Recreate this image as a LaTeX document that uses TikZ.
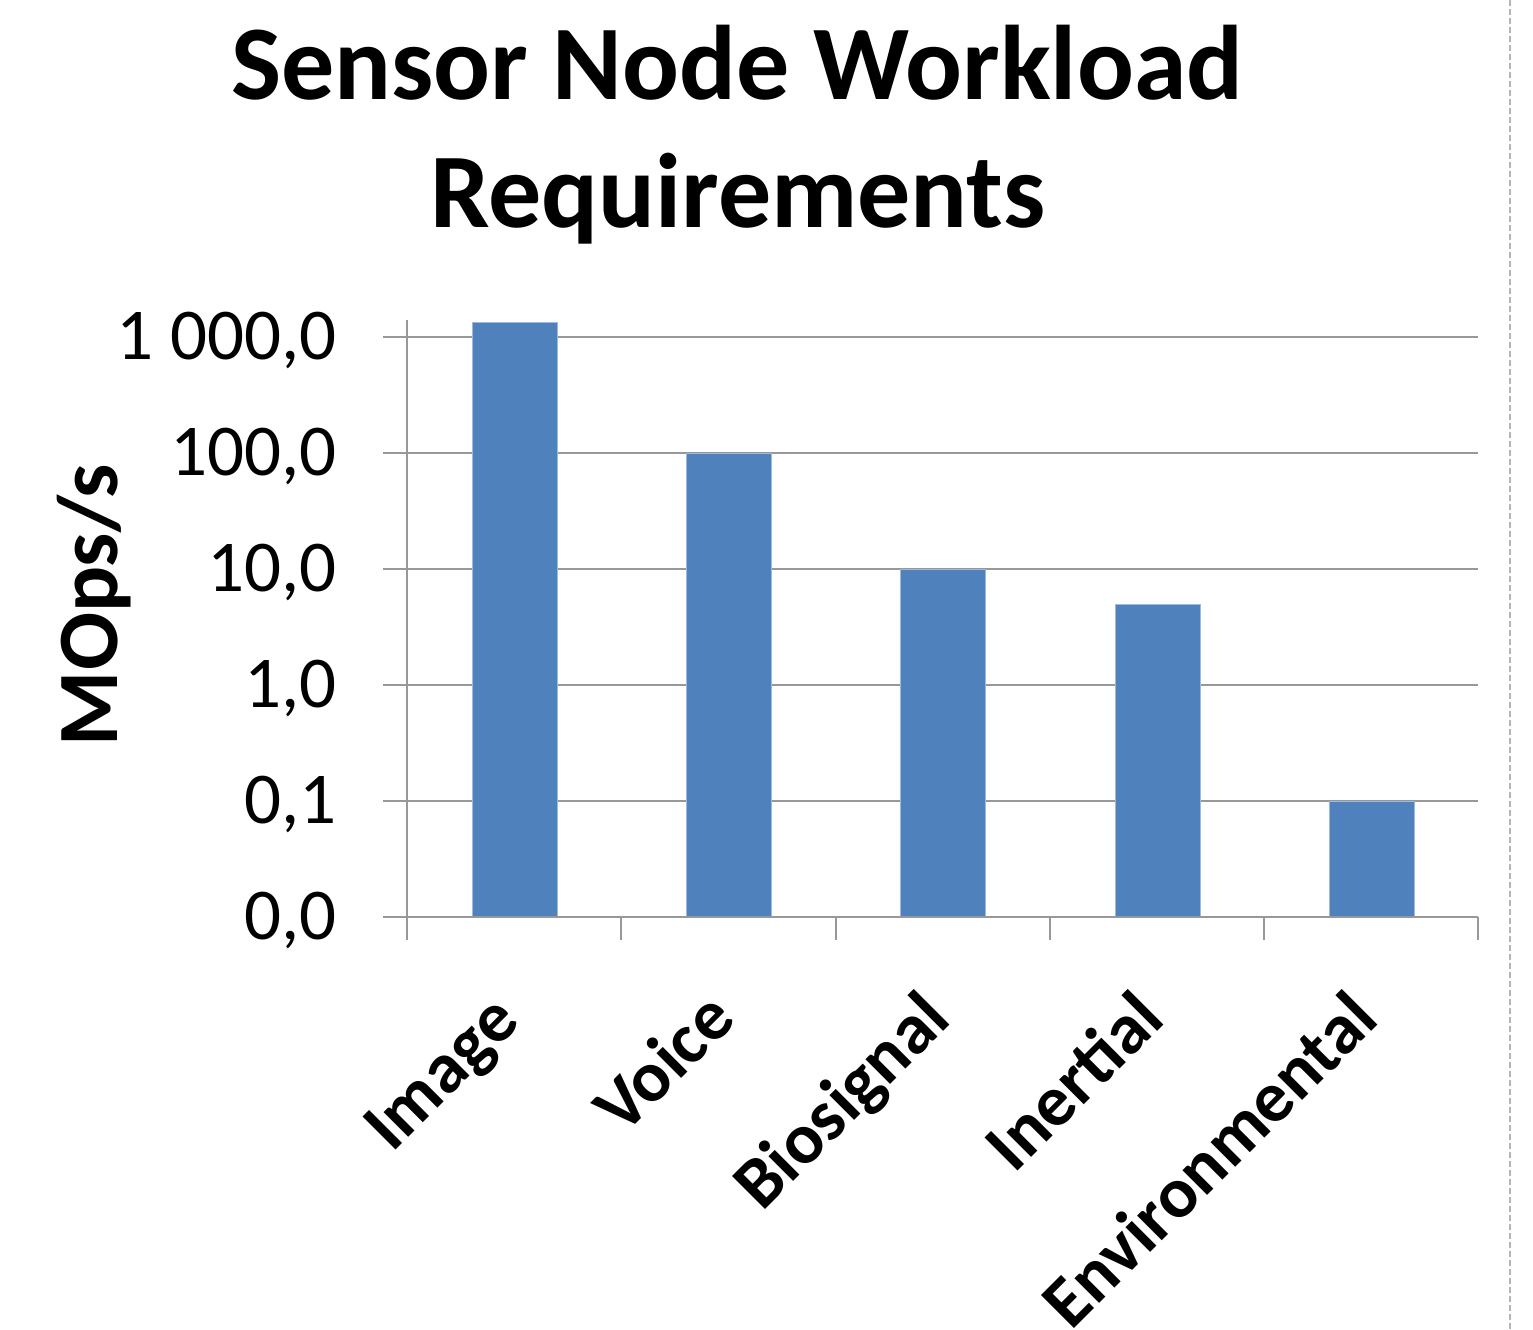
\documentclass[tikz,border=0pt]{standalone}
\usepackage{fontspec}
\setmainfont{Carlito}
\definecolor{barblue}{HTML}{4F81BD}
\definecolor{baredge}{HTML}{9DB9DE}
\definecolor{gridgray}{HTML}{989898}
\definecolor{framegray}{HTML}{B4B4B4}
\begin{document}
\begin{tikzpicture}[x=0.5bp,y=-0.5bp,
  grid/.style={draw=gridgray,line width=1.4bp},
  barbox/.style={fill=barblue,draw=baredge,line width=0.5bp},
  ticklab/.style={anchor=base east,inner sep=0pt,font=\fontsize{36.5bp}{44bp}\selectfont},
  catlab/.style={anchor=base east,rotate=45,inner sep=0pt,font=\fontsize{36bp}{44bp}\selectfont\bfseries},
  titlelab/.style={anchor=base,inner sep=0pt,font=\fontsize{53bp}{64bp}\selectfont\bfseries}]
\useasboundingbox (0,0) rectangle (1533,1330);
\fill[white] (0,0) rectangle (1533,1330);
% right dashed frame edge
\draw[framegray,line width=1bp,dash pattern=on 3bp off 1.5bp] (1510,0) -- (1510,1330);
% title
\node[titlelab] (t1) at (737,100) {Sensor Node Workload};
\node[titlelab] (t2) at (738,228) {Requirements};
% y axis label
\node[rotate=90,inner sep=0pt,font=\fontsize{43bp}{52bp}\selectfont\bfseries] (ylab) at (94,605) {MOps/s};
% gridlines
\foreach \yy in {337,453,569,685,801}
  \draw[grid] (383,\yy) -- (1478,\yy);
% bars
\draw[barbox] (472,917) rectangle (557,323);
\draw[barbox] (686,917) rectangle (771,453);
\draw[barbox] (900,917) rectangle (985,569);
\draw[barbox] (1115,917) rectangle (1200,604);
\draw[barbox] (1329,917) rectangle (1414,801);
% axes
\draw[grid] (383,917) -- (1478,917);
\draw[grid] (407,320) -- (407,940);
\foreach \xx in {621,836,1050,1264,1478}
  \draw[grid] (\xx,917) -- (\xx,940);
% tick labels
\node[ticklab] (l3) at (337,359) {1 000,0};
\node[ticklab] (l2) at (337,475) {100,0};
\node[ticklab] (l1) at (337,591) {10,0};
\node[ticklab] (l0) at (337,707) {1,0};
\node[ticklab] (lm1) at (337,823) {0,1};
\node[ticklab] (lm2) at (337,939) {0,0};
% category labels
\node[catlab] (c1) at (522,1024) {Image};
\node[catlab] (c2) at (738,1022) {Voice};
\node[catlab] (c3) at (953,1022) {Biosignal};
\node[catlab] (c4) at (1167,1022) {Inertial};
\node[catlab] (c5) at (1381,1022) {Environmental};
\end{tikzpicture}
\end{document}
